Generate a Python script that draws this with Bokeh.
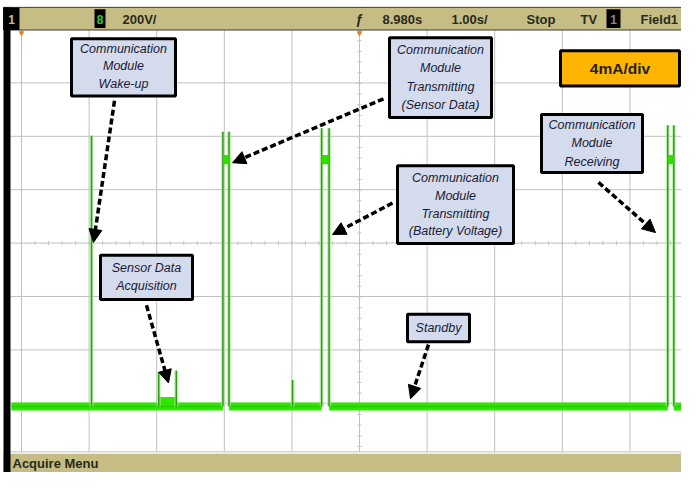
from bokeh.plotting import figure
from bokeh.models import Range1d, Arrow, NormalHead
from bokeh.core.properties import value
from bokeh.embed import file_html
from bokeh.resources import INLINE

# ---------------- data (time in s, current in mA) ----------------
record_start = -0.15
baseline_current = 0.0
wake_time = [1.036]
wake_peak = [20.3]
acq_start = [2.02]
acq_end = [2.30]
acq_level = [0.45]
small_spike_time = [2.03, 2.29, 4.01]
small_spike_peak = [2.6, 2.7, 2.0]
tx_start = [2.98, 4.44, 9.56]
tx_end = [3.07, 4.55, 9.65]
tx_peak = [20.6, 20.85, 21.07]
tx_plateau = [18.5, 18.5, 18.5]

time_per_div = 1.0      # s/div
current_per_div = 4.0   # mA/div
status_labels = ["200V/", "8.980s", "1.00s/", "Stop", "TV", "Field1"]

# ---------------- screen geometry (image pixels) ----------------
X0, PX_PER_DIV_X = 29.0, 67.6
Y0, PX_PER_DIV_Y = 421.0, 54.3
px_per_s = PX_PER_DIV_X / time_per_div
px_per_mA = PX_PER_DIV_Y / current_per_div

left_px, right_px = 8.0, 689.0
top_px, bottom_px = 8.0, 488.0
t_lo = (left_px - X0) / px_per_s
t_hi = (right_px - X0) / px_per_s
i_lo = (Y0 - bottom_px) / px_per_mA
i_hi = (Y0 - top_px) / px_per_mA

p = figure(width=681, height=472, x_range=Range1d(t_lo, t_hi), y_range=Range1d(i_lo, i_hi),
           output_backend="svg", toolbar_location=None, min_border=0,
           x_axis_type=None, y_axis_type=None, outline_line_color=None,
           background_fill_color="white", border_fill_color="white")
p.extra_x_ranges = {"px": Range1d(left_px, right_px)}
p.extra_y_ranges = {"px": Range1d(bottom_px, top_px)}
PX = dict(x_range_name="px", y_range_name="px")

# graticule
vx = [X0 + PX_PER_DIV_X * k for k in range(10)]
p.segment(x0=vx, x1=vx, y0=[38] * len(vx), y1=[467] * len(vx), line_color="#c0c0c0", line_width=1, **PX)
hy = [37.5 + PX_PER_DIV_Y * k for k in range(1, 8)] + [467]
p.segment(x0=[18] * len(hy), x1=[697] * len(hy), y0=hy, y1=hy, line_color="#c0c0c0", line_width=1, **PX)
cx = vx[5]
cy = 37.5 + PX_PER_DIV_Y * 4
tick_y = [38 + PX_PER_DIV_Y / 5 * k for k in range(0, 40)]
p.segment(x0=[cx - 2] * len(tick_y), x1=[cx + 2] * len(tick_y), y0=tick_y, y1=tick_y, line_color="#c0c0c0", **PX)
tick_x = [X0 + PX_PER_DIV_X / 5 * k for k in range(0, 50)]
p.segment(x0=tick_x, x1=tick_x, y0=[cy - 2] * len(tick_x), y1=[cy + 2] * len(tick_x), line_color="#c0c0c0", **PX)

# ---------------- trace ----------------
edges = [record_start] + [v for pair in zip(tx_start, tx_end) for v in pair] + [t_hi]
bx = [[edges[i], edges[i + 1]] for i in range(0, len(edges), 2)]
by = [[baseline_current, baseline_current] for _ in bx]
p.multi_line(xs=bx, ys=by, line_color="#2ee600", line_width=8)
p.segment(x0=acq_start, x1=acq_end, y0=acq_level, y1=acq_level, line_color="#2ee600", line_width=7)
p.multi_line(xs=bx, ys=by, line_color="#22bb00", line_width=1.5, line_alpha=0.6)

vx_t = wake_time + small_spike_time + tx_start + tx_end
vy_t = wake_peak + small_spike_peak + tx_peak + tx_peak
p.segment(x0=vx_t, x1=vx_t, y0=[baseline_current] * len(vx_t), y1=vy_t,
          line_color="#a8ee90", line_width=4, line_alpha=0.7)
p.segment(x0=vx_t, x1=vx_t, y0=[baseline_current] * len(vx_t), y1=vy_t,
          line_color="#2f9a18", line_width=1.5)
p.quad(left=tx_start, right=tx_end, bottom=[v - 0.35 for v in tx_plateau],
       top=[v + 0.35 for v in tx_plateau], fill_color="#33dd00", line_color=None)

# frame bars
p.quad(left=[11], right=[697], top=[15], bottom=[38], fill_color="#c6bd85", line_color="#3a3a3a", line_width=1, **PX)
p.quad(left=[11], right=[697], top=[469], bottom=[488], fill_color="#c6bd85", line_color=None, **PX)
p.quad(left=[11], right=[18], top=[15], bottom=[488], fill_color="black", line_color=None, **PX)
p.quad(left=[11], right=[27], top=[15], bottom=[38], fill_color="black", line_color=None, **PX)
p.quad(left=[102, 614], right=[113, 628], top=[17, 17], bottom=[36, 36], fill_color="black", line_color=None, **PX)
p.text(x=[19, 107.5, 621], y=[27, 27, 27], text=["1", "8", "1"], text_align="center", text_baseline="middle",
       text_color=["#c6bd85", "#33cc33", "#888888"], text_font=value("Liberation Sans"),
       text_font_style="bold", text_font_size="12px", **PX)
p.text(x=[130, 390, 459, 534, 588, 648], y=[27] * 6, text=status_labels, text_align="left",
       text_baseline="middle", text_color="#2a2a1a", text_font=value("Liberation Sans"),
       text_font_style="bold", text_font_size="13px", **PX)
p.text(x=[367], y=[27], text=["\u0192"], text_align="center", text_baseline="middle",
       text_color="#2a2a1a", text_font=value("Liberation Sans"), text_font_style="bold",
       text_font_size="14px", **PX)
p.triangle(x=[29, 367], y=[41, 41], size=6, angle=3.14159, fill_color="#e08020", line_color=None, **PX)
p.text(x=[20], y=[479], text=["Acquire Menu"], text_align="left", text_baseline="middle",
       text_color="#2a2a1a", text_font=value("Liberation Sans"), text_font_style="bold",
       text_font_size="13px", **PX)

# ---------------- annotation boxes ----------------
boxes = [
    (79, 183, 47, 105), (397, 499, 46, 127), (405, 521, 176, 255),
    (549, 650, 124, 183), (108, 200, 267, 312), (415, 477, 327, 355),
]
p.quad(left=[b[0] for b in boxes], right=[b[1] for b in boxes], top=[b[2] for b in boxes],
       bottom=[b[3] for b in boxes], fill_color="#d4dbec", line_color="black", line_width=3, **PX)
p.quad(left=[568], right=[687], top=[59], bottom=[95], fill_color="#ffb400", line_color="black",
       line_width=3, **PX)
p.text(x=[627.5], y=[77], text=["4mA/div"], text_align="center", text_baseline="middle",
       text_color="#222222", text_font=value("Liberation Sans"), text_font_style="bold",
       text_font_size="15.5px", **PX)

labels = [
    (131, [57, 75, 93], ["Communication", "Module", "Wake-up"]),
    (448, [58, 77, 96, 114], ["Communication", "Module", "Transmitting", "(Sensor Data)"]),
    (463, [188, 207, 225, 242], ["Communication", "Module", "Transmitting", "(Battery Voltage)"]),
    (599.5, [135, 153, 172], ["Communication", "Module", "Receiving"]),
    (154, [280, 298], ["Sensor Data", "Acquisition"]),
    (446, [341], ["Standby"]),
]
lx, ly, lt = [], [], []
for cxl, ys, ts in labels:
    for yy, tt in zip(ys, ts):
        lx.append(cxl)
        ly.append(yy)
        lt.append(tt)
p.text(x=lx, y=ly, text=lt, text_align="center", text_baseline="middle", text_color="#1a1a36",
       text_font=value("Liberation Sans"), text_font_style="italic", text_font_size="12.5px", **PX)

arrows = [
    (122, 110, 101, 254), (391, 108, 240, 173), (400, 214, 340, 246),
    (606, 193, 663, 244), (154, 318, 176, 397), (436, 358, 418, 413),
]
for xs_, ys_, xe_, ye_ in arrows:
    p.add_layout(Arrow(x_start=xs_, y_start=ys_, x_end=xe_, y_end=ye_, line_color="black",
                       line_width=3.5, line_dash="6 3",
                       end=NormalHead(size=13, fill_color="black", line_color="black"), **PX))

open("out.html", "w").write(file_html(p, INLINE))
